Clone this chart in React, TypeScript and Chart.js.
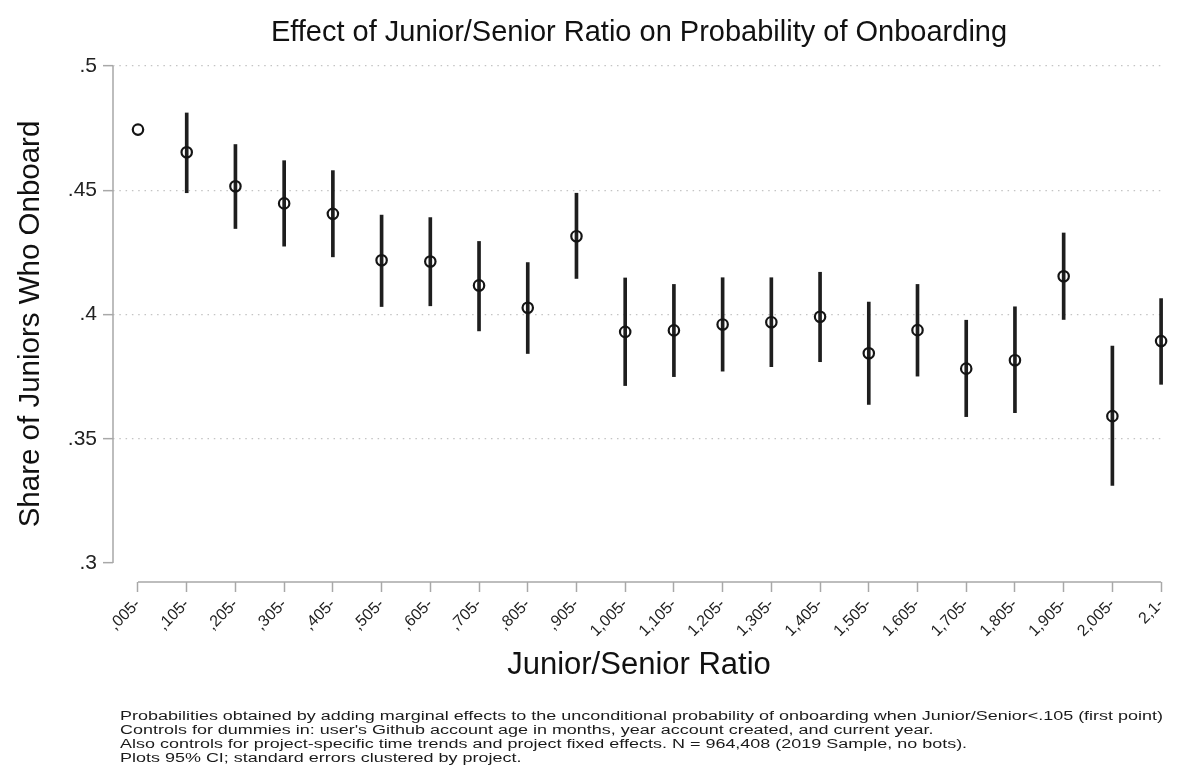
import React, { useEffect, useLayoutEffect, useRef } from 'react';
import { Chart, registerables } from 'chart.js';

Chart.register(...registerables);

const FONT = '"Liberation Sans", Arial, Helvetica, sans-serif';

const chartTitle = 'Effect of Junior/Senior Ratio on Probability of Onboarding';
const xTitle = 'Junior/Senior Ratio';
const yTitle = 'Share of Juniors Who Onboard';

const categories = [
  ',005-', ',105-', ',205-', ',305-', ',405-', ',505-', ',605-', ',705-', ',805-', ',905-',
  '1,005-', '1,105-', '1,205-', '1,305-', '1,405-', '1,505-', '1,605-', '1,705-', '1,805-',
  '1,905-', '2,005-', '2,1-',
];

const estimates = [
  0.4744, 0.4653, 0.4516, 0.4447, 0.4405, 0.4218, 0.4213, 0.4117, 0.4027, 0.4315,
  0.3930, 0.3936, 0.3960, 0.3969, 0.3991, 0.3844, 0.3937, 0.3782, 0.3816, 0.4154,
  0.3591, 0.3893,
];

const ciLower = [
  null, 0.4490, 0.4346, 0.4275, 0.4232, 0.4032, 0.4035, 0.3934, 0.3843, 0.4145,
  0.3714, 0.3750, 0.3772, 0.3790, 0.3810, 0.3638, 0.3752, 0.3589, 0.3605, 0.3980,
  0.3312, 0.3719,
];

const ciUpper = [
  null, 0.4811, 0.4684, 0.4619, 0.4579, 0.4400, 0.4390, 0.4294, 0.4209, 0.4488,
  0.4147, 0.4121, 0.4148, 0.4148, 0.4170, 0.4050, 0.4121, 0.3977, 0.4031, 0.4328,
  0.3873, 0.4064,
];

const yTicks = [0.3, 0.35, 0.4, 0.45, 0.5];
const yTickLabels = ['.3', '.35', '.4', '.45', '.5'];

const footnotes = [
  'Probabilities obtained by adding marginal effects to the unconditional probability of onboarding when Junior/Senior<.105 (first point)',
  "Controls for dummies in: user's Github account age in months, year account created, and current year.",
  'Also controls for project-specific time trends and project fixed effects. N = 964,408 (2019 Sample, no bots).',
  'Plots 95% CI; standard errors clustered by project.',
];

const axisLinesPlugin = {
  id: 'stataAxisLines',
  beforeDatasetsDraw(chart: any) {
    const { ctx, chartArea, scales } = chart;
    const x = scales.x;
    const y = scales.y;
    ctx.save();
    ctx.strokeStyle = '#a8a8a8';
    ctx.lineWidth = 1.5;
    ctx.beginPath();
    ctx.moveTo(chartArea.left, y.getPixelForValue(yTicks[0]));
    ctx.lineTo(chartArea.left, y.getPixelForValue(yTicks[yTicks.length - 1]));
    ctx.moveTo(x.getPixelForValue(0), chartArea.bottom);
    ctx.lineTo(x.getPixelForValue(categories.length - 1), chartArea.bottom);
    ctx.stroke();
    ctx.restore();
  },
};

export default function App() {
  const canvasRef = useRef<HTMLCanvasElement | null>(null);
  const noteRef = useRef<HTMLDivElement | null>(null);
  const firstLineRef = useRef<HTMLDivElement | null>(null);

  useLayoutEffect(() => {
    const line = firstLineRef.current;
    const note = noteRef.current;
    if (line && note) {
      const w = line.getBoundingClientRect().width;
      if (w > 0) note.style.transform = `scaleX(${1043 / w})`;
    }
  }, []);

  useEffect(() => {
    if (!canvasRef.current) return;
    const barData = categories.flatMap((_, i) =>
      ciLower[i] == null ? [] : [{ x: i, y: [ciLower[i] as number, ciUpper[i] as number] }]
    );
    const pointData = categories.map((_, i) => ({ x: i, y: estimates[i] }));

    const chart = new Chart(canvasRef.current, {
      type: 'bar',
      data: {
        datasets: [
          {
            type: 'scatter',
            data: pointData,
            pointRadius: 5.2,
            pointHoverRadius: 5.2,
            pointBorderWidth: 2.2,
            pointBorderColor: '#141414',
            pointBackgroundColor: 'rgba(0,0,0,0)',
            showLine: false,
            clip: false,
          } as any,
          {
            type: 'bar',
            data: barData as any,
            backgroundColor: '#1e1e1e',
            borderWidth: 0,
            barThickness: 3,
            grouped: false,
            clip: false,
          } as any,
        ],
      },
      options: {
        responsive: false,
        animation: false,
        devicePixelRatio: 1,
        layout: { padding: { left: 0, right: 16, top: 0, bottom: 0 } },
        plugins: {
          legend: { display: false },
          tooltip: { enabled: false },
          title: {
            display: true,
            text: chartTitle,
            fullSize: false,
            color: '#111',
            font: { family: FONT, size: 29, weight: 'normal' },
            padding: { top: 15.6, bottom: 15.6 },
          },
        },
        scales: {
          x: {
            type: 'linear',
            offset: false,
            min: -0.513,
            max: 21.08,
            afterBuildTicks: (s: any) => {
              s.ticks = categories.map((_, i) => ({ value: i }));
            },
            afterFit: (s: any) => {
              s.height = 193;
            },
            ticks: {
              autoSkip: false,
              minRotation: 45,
              maxRotation: 45,
              padding: 3,
              color: '#222',
              font: { family: FONT, size: 16 },
              callback: (_v: any, i: number) => categories[i],
            },
            grid: {
              offset: false,
              drawOnChartArea: false,
              drawTicks: true,
              tickLength: 10,
              tickColor: '#a8a8a8',
              tickWidth: 1.5,
              color: '#a8a8a8',
            },
            border: { display: false },
            title: {
              display: true,
              text: xTitle,
              color: '#111',
              font: { family: FONT, size: 31 },
              padding: { top: 0, bottom: 91.4 },
            },
          },
          y: {
            type: 'linear',
            min: 0.29235,
            max: 0.5,
            afterBuildTicks: (s: any) => {
              s.ticks = yTicks.map((v) => ({ value: v }));
            },
            afterFit: (s: any) => {
              s.width = 113;
            },
            ticks: {
              padding: 6,
              color: '#222',
              font: { family: FONT, size: 21 },
              callback: (_v: any, i: number) => yTickLabels[i],
            },
            grid: {
              color: (ctx: any) =>
                ctx.tick && Math.abs(ctx.tick.value - yTicks[0]) < 1e-9 ? 'rgba(0,0,0,0)' : '#c4c4c4',
              lineWidth: 1.3,
              tickLength: 10,
              tickColor: '#a8a8a8',
              tickWidth: 1.5,
              tickBorderDash: [],
            },
            border: { display: false, dash: [1.5, 4.8] },
            title: {
              display: true,
              text: yTitle,
              color: '#111',
              font: { family: FONT, size: 29.5 },
              padding: { top: 13.3, bottom: 0 },
            },
          },
        },
      } as any,
      plugins: [axisLinesPlugin],
    });
    return () => chart.destroy();
  }, []);

  return (
    <div style={{ position: 'fixed', left: 0, top: 0, width: 1181, height: 775, background: '#fff' }}>
      <canvas ref={canvasRef} width={1181} height={775} style={{ position: 'absolute', left: 0, top: 0 }} />
      <div
        ref={noteRef}
        style={{
          position: 'absolute',
          left: 120,
          top: 709,
          fontFamily: FONT,
          fontSize: 12.5,
          lineHeight: '14px',
          color: '#1a1a1a',
          whiteSpace: 'pre',
          transformOrigin: '0 0',
        }}
      >
        {footnotes.map((t, i) => (
          <div key={i} ref={i === 0 ? firstLineRef : undefined} style={{ display: 'table' }}>
            {t}
          </div>
        ))}
      </div>
    </div>
  );
}
